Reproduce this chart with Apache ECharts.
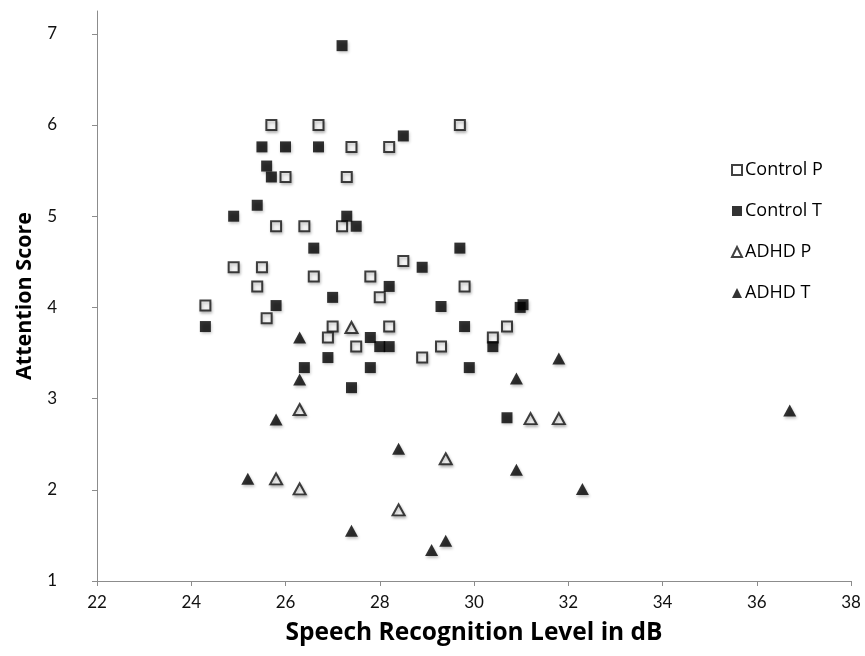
<!DOCTYPE html>
<html>
<head>
<meta charset="utf-8">
<script src="https://cdn.jsdelivr.net/npm/echarts@6/dist/echarts.min.js"></script>
<style>
html,body{margin:0;padding:0;background:#fff;}
#chart{width:865px;height:656px;}
</style>
</head>
<body>
<div id="chart"></div>
<script>
const xTicks = [22, 24, 26, 28, 30, 32, 34, 36, 38];
const yTicks = [1, 2, 3, 4, 5, 6, 7];
const seriesNames = ['Control P', 'Control T', 'ADHD P', 'ADHD T'];

const controlP = [
  [25.7, 6.0], [26.7, 6.0], [29.7, 6.0], [27.4, 5.76], [28.2, 5.76],
  [26.0, 5.43], [27.3, 5.43], [25.8, 4.89], [26.4, 4.89], [27.2, 4.89],
  [24.9, 4.44], [25.5, 4.44], [28.5, 4.51], [26.6, 4.34], [27.8, 4.34],
  [25.4, 4.23], [29.8, 4.23], [28.0, 4.11], [24.3, 4.02], [25.6, 3.88],
  [27.0, 3.79], [28.2, 3.79], [30.7, 3.79], [26.9, 3.67], [30.4, 3.67],
  [27.5, 3.57], [29.3, 3.57], [28.9, 3.45]
];
const controlT = [
  [27.2, 6.87], [28.5, 5.88], [25.5, 5.76], [26.0, 5.76], [26.7, 5.76],
  [25.6, 5.55], [25.7, 5.43], [25.4, 5.12], [24.9, 5.0], [27.3, 5.0],
  [27.5, 4.89], [26.6, 4.65], [29.7, 4.65], [28.9, 4.44], [28.2, 4.23],
  [27.0, 4.11], [25.8, 4.02], [29.3, 4.01], [30.98, 4.0], [31.04, 4.03],
  [24.3, 3.79], [29.8, 3.79], [27.8, 3.67], [28.0, 3.57], [28.2, 3.57],
  [30.4, 3.57], [26.9, 3.45], [26.4, 3.34], [27.8, 3.34], [29.9, 3.34],
  [27.4, 3.12], [30.7, 2.79]
];
const adhdP = [
  [27.4, 3.78], [26.3, 2.88], [31.2, 2.78], [31.8, 2.78],
  [25.8, 2.12], [26.3, 2.01], [29.4, 2.34], [28.4, 1.78]
];
const adhdT = [
  [26.3, 3.67], [26.3, 3.21], [31.8, 3.44], [30.9, 3.22], [25.8, 2.77],
  [36.7, 2.87], [28.4, 2.45], [30.9, 2.22], [25.2, 2.12], [32.3, 2.01],
  [27.4, 1.55], [29.4, 1.44], [29.1, 1.34]
];

const shadow = {shadowBlur: 3, shadowColor: 'rgba(0,0,0,0.3)', shadowOffsetX: 1, shadowOffsetY: 2};
const labelFont = 'Lato, "Open Sans", sans-serif';
const titleFont = '"Open Sans", Lato, sans-serif';

const chart = echarts.init(document.getElementById('chart'), null, {renderer: 'canvas'});
chart.setOption({
  backgroundColor: '#ffffff',
  animation: false,
  grid: {left: 97, right: 14, top: 11, bottom: 75, containLabel: false},
  xAxis: {
    type: 'value', min: 22, max: 38, interval: 2,
    name: 'Speech Recognition Level in dB',
    nameLocation: 'middle', nameGap: 40,
    nameTextStyle: {fontFamily: titleFont, fontWeight: 'bold', fontSize: 24.5, color: '#000'},
    axisLine: {show: true, lineStyle: {color: '#8c8c8c', width: 1}},
    axisTick: {show: true, length: 5, lineStyle: {color: '#8c8c8c'}, customValues: xTicks},
    axisLabel: {fontFamily: labelFont, fontSize: 17, color: '#111', margin: 13, customValues: xTicks},
    splitLine: {show: false}
  },
  yAxis: {
    type: 'value', min: 1, max: 7.25,
    name: 'Attention Score',
    nameLocation: 'middle', nameGap: 59, nameRotate: 90,
    nameTextStyle: {fontFamily: titleFont, fontWeight: 'bold', fontSize: 21.5, color: '#000'},
    axisLine: {show: true, lineStyle: {color: '#8c8c8c', width: 1}},
    axisTick: {show: true, length: 5, lineStyle: {color: '#8c8c8c'}, customValues: yTicks},
    axisLabel: {fontFamily: labelFont, fontSize: 17, color: '#111', margin: 40, customValues: yTicks},
    splitLine: {show: false}
  },
  legend: {
    orient: 'vertical', left: 726, top: 154,
    itemWidth: 10, itemHeight: 10, itemGap: 19,
    textStyle: {fontFamily: titleFont, fontSize: 18, color: '#000', lineHeight: 22, padding: [0, 0, 0, -2]},
    data: seriesNames
  },
  series: [
    {name: seriesNames[0], type: 'scatter', data: controlP, symbol: 'rect', symbolSize: 10,
     itemStyle: Object.assign({color: '#ffffff', borderColor: '#111', borderWidth: 2}, shadow), z: 2},
    {name: seriesNames[1], type: 'scatter', data: controlT, symbol: 'rect', symbolSize: 11,
     itemStyle: Object.assign({color: '#000000', borderWidth: 0}, shadow), z: 3},
    {name: seriesNames[2], type: 'scatter', data: adhdP, symbol: 'triangle', symbolSize: [12, 11],
     itemStyle: Object.assign({color: '#ffffff', borderColor: '#111', borderWidth: 2}, shadow), z: 2},
    {name: seriesNames[3], type: 'scatter', data: adhdT, symbol: 'triangle', symbolSize: [13, 12],
     itemStyle: Object.assign({color: '#000000', borderWidth: 0}, shadow), z: 3}
  ]
});
</script>
</body>
</html>
